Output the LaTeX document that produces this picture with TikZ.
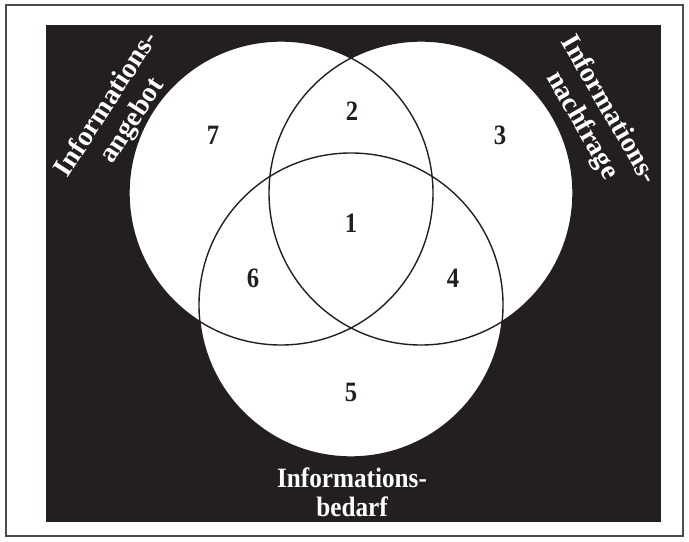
\documentclass[tikz,border=0pt]{standalone}
\usepackage{fontspec}
\setmainfont{Liberation Serif}
\usepackage{tikz}
\usetikzlibrary{positioning}
\definecolor{venndark}{RGB}{35, 31, 32}

\begin{document}
\begin{tikzpicture}[
			x=0.5pt, y=0.5pt,
			line width=0.6pt,
			ring/.style={draw, line width=0.7pt, color=venndark},
			lbl/.style={text=white, align=center, inner sep=0pt,
				font=\fontsize{14}{15.2}\selectfont\bfseries},
			num/.style={text=venndark, inner sep=0pt, xscale=0.88, transform shape,
				font=\fontsize{14}{14}\selectfont\bfseries}
		]

		\def\r{76pt}
		\def\xA{281}
		\def\yA{348}
		\def\xN{421}
		\def\yN{348}
		\def\xB{351}
		\def\yB{236}

		\useasboundingbox (0,0) rectangle (689,541);

		%% Frame and dark field
		\draw[black!70, line width=0.8pt] (6,5) rectangle (683,536);
		\fill[venndark] (46,19) rectangle (661,516);

		%% Three sets
		\fill[white] (\xA,\yA) circle (\r);
		\fill[white] (\xN,\yN) circle (\r);
		\fill[white] (\xB,\yB) circle (\r);
		\draw[ring] (\xA,\yA) circle (\r);
		\draw[ring] (\xN,\yN) circle (\r);
		\draw[ring] (\xB,\yB) circle (\r);

		%% Set labels
		\node[lbl, rotate=57] (angebot) at (120,428) {Informations-\\angebot};
		\node[lbl, rotate=-60] (nachfrage) at (595,423) {Informations-\\nachfrage};
		\node[lbl, xscale=0.9, transform shape,
			font=\fontsize{14}{14.5}\selectfont\bfseries] (bedarf) at (352,49) {Informations-\\bedarf};

		%% Region numbers
		\node[num] (r1) at (351,318) {1};
		\node[num] (r2) at (352,430) {2};
		\node[num] (r3) at (500,406) {3};
		\node[num] (r4) at (453,263) {4};
		\node[num] (r5) at (351,149) {5};
		\node[num] (r6) at (253,263) {6};
		\node[num] (r7) at (213,406) {7};

\end{tikzpicture}
\end{document}
